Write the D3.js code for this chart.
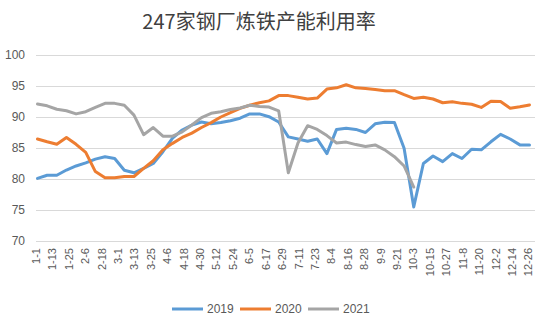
<!DOCTYPE html>
<html>
<head>
<meta charset="utf-8">
<script src="https://cdn.jsdelivr.net/npm/d3@7"></script>
<style>
  html, body { margin: 0; padding: 0; background: #fff; }
  svg { display: block; }
</style>
</head>
<body>
<svg id="chart" width="550" height="325"></svg>
<script>
const title = "247家钢厂炼铁产能利用率";
const tickLabels = ["1-1","1-13","1-25","2-6","2-18","3-1","3-13","3-25","4-6","4-18","4-30","5-12","5-24","6-5","6-17","6-29","7-11","7-23","8-4","8-16","8-28","9-9","9-21","10-3","10-15","10-27","11-8","11-20","12-2","12-14","12-26"];
const yTicks = [70, 75, 80, 85, 90, 95, 100];
const seriesNames = ["2019", "2020", "2021"];
const seriesColors = ["#5B9BD5", "#ED7D31", "#A5A5A5"];

const values2019 = [80.1,80.6,80.6,81.45,82.1,82.6,83.2,83.6,83.3,81.4,81.0,81.7,82.5,84.4,86.6,87.9,88.7,89.2,88.9,89.1,89.4,89.8,90.5,90.5,90.05,89.2,86.8,86.45,86.1,86.45,84.1,88.0,88.2,88.0,87.5,88.9,89.15,89.1,84.95,75.5,82.5,83.7,82.8,84.1,83.3,84.8,84.7,86.0,87.2,86.45,85.5,85.5];
const values2020 = [86.45,86.0,85.6,86.7,85.6,84.3,81.2,80.2,80.2,80.4,80.4,81.7,82.95,84.7,85.75,86.7,87.4,88.3,89.1,90.0,90.7,91.4,91.9,92.3,92.6,93.45,93.45,93.2,92.9,93.05,94.5,94.7,95.2,94.7,94.6,94.45,94.25,94.25,93.6,93.0,93.2,92.9,92.3,92.45,92.2,92.05,91.55,92.55,92.5,91.4,91.65,91.95];
const values2021 = [92.1,91.8,91.25,91.0,90.5,90.85,91.55,92.2,92.2,91.9,90.3,87.15,88.3,86.9,86.9,87.6,88.7,89.9,90.6,90.85,91.2,91.45,91.9,91.7,91.6,91.0,81.0,85.8,88.6,88.0,87.0,85.8,85.95,85.55,85.25,85.5,84.7,83.6,82.1,78.7];

const allSeries = [values2019, values2020, values2021];

const svg = d3.select("#chart");
const latin = "'Liberation Sans', 'DejaVu Sans', sans-serif";
const textColor = "#595959";

const plotLeft = 36, plotRight = 535, plotTop = 55, plotBottom = 241;

const y = d3.scaleLinear().domain([70, 100]).range([plotBottom, plotTop]);
const xLab = d3.scalePoint().domain(tickLabels).range([35.5, 528]);
const xIdx = d3.scaleLinear().domain([0, 51]).range([37.5, 529.5]);

// Title
svg.append("text")
  .attr("x", 259).attr("y", 29)
  .attr("text-anchor", "middle")
  .style("font-family", "'Noto Sans CJK SC', sans-serif")
  .style("font-size", "20px")
  .style("fill", "#404040")
  .text(title);

// Y axis with gridlines
const yAxis = d3.axisLeft(y).tickValues(yTicks).tickSize(-(plotRight - plotLeft)).tickPadding(11);
const gy = svg.append("g").attr("transform", `translate(${plotLeft},0)`).call(yAxis);
gy.select(".domain").remove();
gy.selectAll(".tick line").attr("stroke", "#D9D9D9").attr("stroke-width", 1);
gy.selectAll(".tick text")
  .style("font-family", latin).style("font-size", "12px").style("fill", textColor);

// X axis
const xAxis = d3.axisBottom(xLab).tickSize(0);
const gx = svg.append("g").attr("transform", `translate(0,${plotBottom})`).call(xAxis);
gx.select(".domain").remove();
gx.selectAll(".tick text")
  .attr("transform", "rotate(-90)")
  .attr("x", -7).attr("y", 0).attr("dy", "0.35em")
  .style("text-anchor", "end")
  .style("font-family", latin).style("font-size", "11px").style("fill", textColor);

// Lines
const line = d3.line().x((d, i) => xIdx(i)).y(d => y(d));
allSeries.forEach((vals, k) => {
  svg.append("path")
    .datum(vals)
    .attr("fill", "none")
    .attr("stroke", seriesColors[k])
    .attr("stroke-width", 3)
    .attr("stroke-linejoin", "round")
    .attr("stroke-linecap", "round")
    .attr("d", line);
});

// Legend
const legendX = [172, 240, 308];
const lg = svg.append("g");
seriesNames.forEach((name, k) => {
  lg.append("line")
    .attr("x1", legendX[k]).attr("x2", legendX[k] + 31)
    .attr("y1", 309).attr("y2", 309)
    .attr("stroke", seriesColors[k]).attr("stroke-width", 3);
  lg.append("text")
    .attr("x", legendX[k] + 35).attr("y", 313)
    .style("font-family", latin).style("font-size", "12px").style("fill", textColor)
    .text(name);
});
</script>
</body>
</html>
